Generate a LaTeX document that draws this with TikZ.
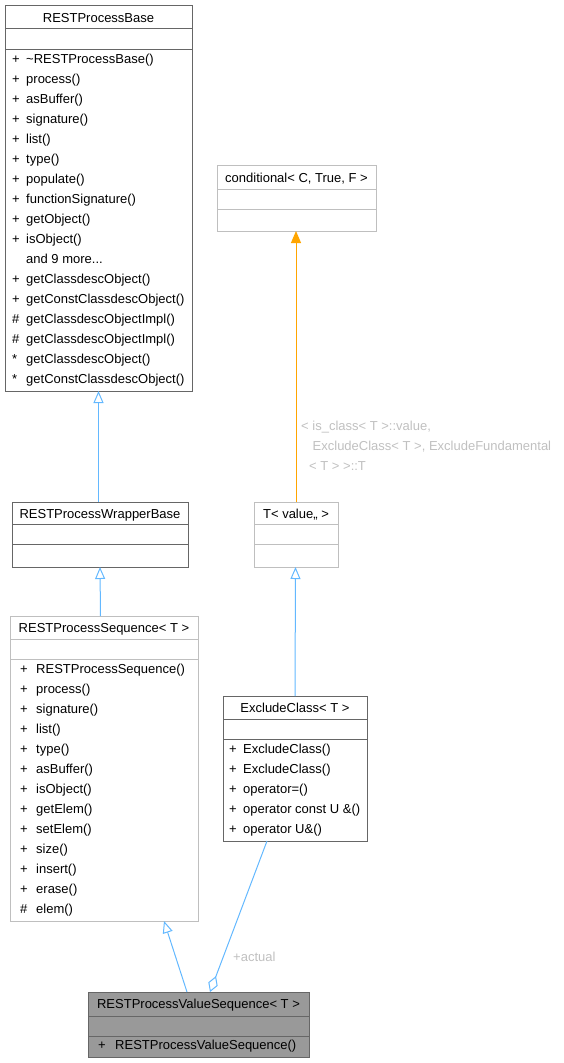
\documentclass[tikz,border=0pt]{standalone}
\usepackage{fontspec}
\setmainfont{Liberation Sans}
\usetikzlibrary{arrows.meta,calc}
\definecolor{dgray}{HTML}{666666}
\definecolor{lgray}{HTML}{BFBFBF}
\definecolor{fillg}{HTML}{999999}
\definecolor{edgeb}{HTML}{63B8FF}
\definecolor{orng}{HTML}{FFA500}
\definecolor{labg}{HTML}{C0C0C0}
\newcommand\classbox[6]{%
  \node[cls,#6,minimum width={(#4-#2)*1pt},minimum height={(#5-#3)*1pt}] (#1) at (#2,#3) {};}
\newcommand\seps[5]{%
  \draw[#5,line width=1pt] (#1,#3) -- (#2,#3);
  \draw[#5,line width=1pt] (#1,#4) -- (#2,#4);}
\begin{document}
\begin{tikzpicture}[x=1pt,y=-1pt,
  cls/.style={draw,rectangle,inner sep=0pt,outer sep=0pt,anchor=north west,line width=1pt},
  txt/.style={font=\fontsize{13}{15}\selectfont,inner sep=0pt,anchor=base west,text=black},
  ttl/.style={font=\fontsize{13}{15}\selectfont,inner sep=0pt,anchor=base,text=black},
  elab/.style={font=\fontsize{13}{15}\selectfont,inner sep=0pt,anchor=base west,text=labg},
  inh/.style={draw=edgeb,line width=1pt,-{Triangle[open,length=12pt,width=10pt]}},
  tmpl/.style={draw=orng,line width=1pt,-{Triangle[length=12pt,width=10pt]}},
  agg/.style={draw=edgeb,line width=1pt,{Diamond[open,length=17pt,width=10pt]}-},
]
\useasboundingbox (0,0) rectangle (563,1063);

% RESTProcessBase
\classbox{base}{5}{5}{192}{391}{draw=dgray}
\seps{5}{192}{28}{49}{dgray}
\node[ttl] (base-t) at (98.5,22) {RESTProcessBase};
\foreach \s/\t [count=\i from 0] in {+/{\textasciitilde RESTProcessBase()},+/process(),+/asBuffer(),+/signature(),+/list(),+/type(),+/populate(),+/functionSignature(),+/getObject(),+/isObject(),{}/{and 9 more...},+/getClassdescObject(),+/getConstClassdescObject(),\#/getClassdescObjectImpl(),\#/getClassdescObjectImpl(),*/getClassdescObject(),*/getConstClassdescObject()}{
  \node[txt] (base-s\i) at (12,63+20*\i) {\s};
  \node[txt] (base-m\i) at (26,63+20*\i) {\t};
}

% RESTProcessWrapperBase
\classbox{wrap}{12}{502}{188}{567}{draw=dgray}
\seps{12}{188}{524}{544}{dgray}
\node[ttl] (wrap-t) at (100,518) {RESTProcessWrapperBase};

% RESTProcessSequence
\classbox{seq}{10}{616}{198}{921}{draw=lgray}
\seps{10}{198}{639}{659}{lgray}
\node[ttl] (seq-t) at (104,632.7) {RESTProcessSequence< T >};
\foreach \s/\t [count=\i from 0] in {+/RESTProcessSequence(),+/process(),+/signature(),+/list(),+/type(),+/asBuffer(),+/isObject(),+/getElem(),+/setElem(),+/size(),+/insert(),+/erase(),\#/elem()}{
  \node[txt] (seq-s\i) at (20,673.7+20*\i) {\s};
  \node[txt] (seq-m\i) at (36,673.7+20*\i) {\t};
}

% conditional
\classbox{cond}{217}{165}{376}{231}{draw=lgray}
\seps{217}{376}{189}{209}{lgray}
\node[ttl] (cond-t) at (296.5,182.6) {conditional< C, True, F >};

% T< value,, >
\classbox{tval}{254}{502}{338}{567}{draw=lgray}
\seps{254}{338}{524}{544}{lgray}
\node[ttl] (tval-t) at (296,518.6) {T< value,, >};

% ExcludeClass
\classbox{excl}{223}{696}{367}{841}{draw=dgray}
\seps{223}{367}{719}{739}{dgray}
\node[ttl] (excl-t) at (295,712.7) {ExcludeClass< T >};
\foreach \s/\t [count=\i from 0] in {+/ExcludeClass(),+/ExcludeClass(),+/operator=(),+/{operator const U \&()},+/{operator U\&()}}{
  \node[txt] (excl-s\i) at (229,753.7+20*\i) {\s};
  \node[txt] (excl-m\i) at (243,753.7+20*\i) {\t};
}

% RESTProcessValueSequence
\classbox{vseq}{88}{992}{309}{1057}{draw=dgray,fill=fillg}
\seps{88}{309}{1016}{1036}{dgray}
\node[ttl] (vseq-t) at (198.5,1008.6) {RESTProcessValueSequence< T >};
\node[txt] (vseq-s0) at (98,1049.6) {+};
\node[txt] (vseq-m0) at (115,1049.6) {RESTProcessValueSequence()};

% connectors
\draw[inh] (wrap.north -| base.south) -- (base.south);
\draw[inh] ($(seq.north west)+(90.5,0)$) -- (wrap.south);
\draw[inh] (excl.north) -- ($(tval.south)+(-0.5,0)$);
\draw[tmpl] (tval.north) -- (tval.north |- cond.south);
\draw[inh] ($(vseq.north west)+(99,0)$) -- ($(seq.south west)+(154,0)$);
\draw[agg] ($(vseq.north west)+(122,0)$) -- ($(excl.south west)+(44,0)$);

% edge labels
\node[elab] (lab1) at (301,430.6) {< is\_class< T >::value,};
\node[elab] (lab2) at (312.5,450.6) {ExcludeClass< T >, ExcludeFundamental};
\node[elab] (lab3) at (309,470.6) {< T > >::T};
\node[elab] (lab4) at (233,961.6) {+actual};
\end{tikzpicture}
\end{document}
